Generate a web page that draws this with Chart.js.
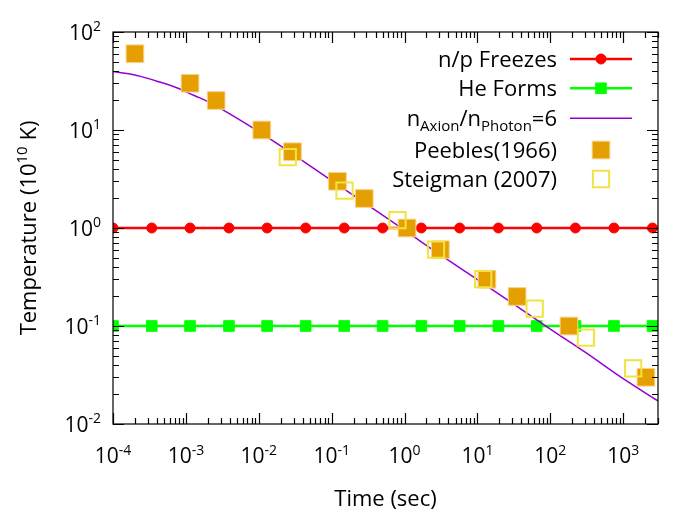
<!DOCTYPE html>
<html>
<head>
<meta charset="utf-8">
<script src="https://cdn.jsdelivr.net/npm/chart.js@4.4.1/dist/chart.umd.min.js"></script>
<style>
  html, body { margin: 0; padding: 0; background: #fff; }
</style>
</head>
<body>
<canvas id="bbnChart" width="698" height="523"></canvas>
<script>
// where the markers sit on the two flat lines (sec)
const markerTimes = [1e-4, 3.4e-4, 1.14e-3, 3.9e-3, 1.3e-2, 4.4e-2, 0.149, 0.50, 1.7, 5.7, 19.4, 65, 221, 746, 2520];
const lineEnd = 3000;
const freezeTemp = 1.0;
const heliumTemp = 0.1;

// n_Axion/n_Photon = 6 curve
const curveTimes = [1e-4, 2e-4, 4e-4, 7.5e-4, 1.3e-3, 2e-3, 4e-3, 1e-2, 3e-2, 0.1, 0.3, 1, 3, 10, 30, 100, 300, 1000, 3000];
const curveTemps = [39.5, 36.5, 31.5, 27, 22.5, 19.5, 14.6, 9.6, 5.6, 3.05, 1.75, 0.95, 0.54, 0.297, 0.171, 0.093, 0.054, 0.029, 0.0172];

// Peebles (1966)
const peeblesTimes = [2e-4, 1.14e-3, 2.6e-3, 1.1e-2, 2.9e-2, 0.12, 0.28, 1.08, 3.1, 13.5, 35, 180, 2050];
const peeblesTemps = [60, 30, 20, 10, 6, 3, 2, 1, 0.6, 0.3, 0.2, 0.1, 0.03];

// Steigman (2007)
const steigmanTimes = [0.025, 0.15, 0.8, 2.7, 12, 61, 308, 1370];
const steigmanTemps = [5.3, 2.4, 1.2, 0.6, 0.3, 0.15, 0.076, 0.037];

// axis ticks (powers of ten)
const xTickExps = [-4, -3, -2, -1, 0, 1, 2, 3];
const yTickExps = [-2, -1, 0, 1, 2];

const FONT = '"Open Sans", "Noto Sans", sans-serif';

function toPoints(xs, ys) {
  return xs.map((x, i) => ({ x: x, y: Array.isArray(ys) ? ys[i] : ys }));
}

// text with sub/superscripts: parts = [{t, s: 'sup' | 'sub'}]
function drawRich(c, parts, x, y, align, size) {
  const small = Math.round(size * 0.68);
  let w = 0;
  parts.forEach(p => {
    c.font = (p.s ? small : size) + 'px ' + FONT;
    w += c.measureText(p.t).width;
  });
  let cx = align === 'center' ? x - w / 2 : align === 'right' ? x - w : x;
  c.textAlign = 'left';
  c.textBaseline = 'alphabetic';
  parts.forEach(p => {
    c.font = (p.s ? small : size) + 'px ' + FONT;
    const dy = p.s === 'sup' ? -size * 0.4 : p.s === 'sub' ? size * 0.21 : 0;
    c.fillText(p.t, cx, y + dy);
    cx += c.measureText(p.t).width;
  });
}

function drawMarker(c, ds, x, y) {
  const r = ds.legendRadius;
  c.save();
  c.fillStyle = ds.backgroundColor;
  c.strokeStyle = ds.borderColor;
  c.lineWidth = ds.pointBorderWidth || 1;
  c.beginPath();
  if (ds.pointStyle === 'circle') {
    c.arc(x, y, r, 0, Math.PI * 2);
  } else {
    const s = r * Math.SQRT1_2;
    c.rect(x - s, y - s, 2 * s, 2 * s);
  }
  if (ds.backgroundColor !== 'transparent') c.fill();
  c.stroke();
  c.restore();
}

// gnuplot style frame: box, inward ticks on all sides, labels, key
const gnuFrame = {
  id: 'gnuFrame',
  afterDraw(chart) {
    const c = chart.ctx;
    const a = chart.chartArea;
    const xs = chart.scales.x, ys = chart.scales.y;
    c.save();
    c.strokeStyle = '#000';
    c.fillStyle = '#000';
    c.lineWidth = 1.2;
    c.strokeRect(a.left, a.top, a.right - a.left, a.bottom - a.top);

    c.beginPath();
    for (let e = -4; e <= 3; e++) {
      for (let k = 1; k <= 9; k++) {
        const v = k * Math.pow(10, e);
        if (v < xs.min * 0.999 || v > xs.max * 1.001) continue;
        const px = Math.round(xs.getPixelForValue(v)) + 0.5;
        const len = k === 1 ? 11 : 6;
        c.moveTo(px, a.bottom); c.lineTo(px, a.bottom - len);
        c.moveTo(px, a.top); c.lineTo(px, a.top + len);
      }
    }
    for (let e = -2; e <= 2; e++) {
      for (let k = 1; k <= 9; k++) {
        const v = k * Math.pow(10, e);
        if (v < ys.min * 0.999 || v > ys.max * 1.001) continue;
        const py = Math.round(ys.getPixelForValue(v)) + 0.5;
        const len = k === 1 ? 11 : 6;
        c.moveTo(a.left, py); c.lineTo(a.left + len, py);
        c.moveTo(a.right, py); c.lineTo(a.right - len, py);
      }
    }
    c.stroke();

    xTickExps.forEach(e => {
      const px = xs.getPixelForValue(Math.pow(10, e));
      drawRich(c, [{ t: '10' }, { t: String(e), s: 'sup' }], px, 463, 'center', 21);
    });
    yTickExps.forEach(e => {
      const py = ys.getPixelForValue(Math.pow(10, e));
      drawRich(c, [{ t: '10' }, { t: String(e), s: 'sup' }], 101, py + 7.5, 'right', 21);
    });

    drawRich(c, [{ t: 'Time (sec)' }], (a.left + a.right) / 2, 506, 'center', 22);
    c.save();
    c.translate(36, (a.top + a.bottom) / 2);
    c.rotate(-Math.PI / 2);
    drawRich(c, [{ t: 'Temperature (10' }, { t: '10', s: 'sup' }, { t: ' K)' }], 0, 0, 'center', 22);
    c.restore();

    // key
    const rowY = [59, 88.3, 118.3, 150, 179];
    chart.data.datasets.forEach((ds, i) => {
      const y = rowY[i];
      c.fillStyle = '#000';
      drawRich(c, ds.richLabel, 557, y + 8, 'right', 22);
      if (ds.showLine) {
        c.strokeStyle = ds.borderColor;
        c.lineWidth = ds.borderWidth;
        c.beginPath();
        c.moveTo(570, y); c.lineTo(632, y);
        c.stroke();
      }
      if (ds.legendRadius) drawMarker(c, ds, 601, y);
    });
    c.restore();
  }
};

const markerRadius = r => ctx => ctx.dataIndex < markerTimes.length ? r : 0;

const ctxChart = document.getElementById('bbnChart').getContext('2d');
new Chart(ctxChart, {
  type: 'scatter',
  data: {
    datasets: [
      {
        label: 'n/p Freezes',
        richLabel: [{ t: 'n/p Freezes' }],
        data: toPoints(markerTimes.concat([lineEnd]), freezeTemp),
        showLine: true,
        borderColor: '#ff0000',
        backgroundColor: '#ff0000',
        borderWidth: 2.6,
        pointStyle: 'circle',
        pointRadius: markerRadius(5),
        pointBorderWidth: 1,
        legendRadius: 5,
        order: 5
      },
      {
        label: 'He Forms',
        richLabel: [{ t: 'He Forms' }],
        data: toPoints(markerTimes.concat([lineEnd]), heliumTemp),
        showLine: true,
        borderColor: '#00ff00',
        backgroundColor: '#00ff00',
        borderWidth: 2.6,
        pointStyle: 'rect',
        pointRadius: markerRadius(7.5),
        pointBorderWidth: 1,
        legendRadius: 7.5,
        order: 4
      },
      {
        label: 'nAxion/nPhoton=6',
        richLabel: [{ t: 'n' }, { t: 'Axion', s: 'sub' }, { t: '/n' }, { t: 'Photon', s: 'sub' }, { t: '=6' }],
        data: toPoints(curveTimes, curveTemps),
        showLine: true,
        borderColor: '#9400d3',
        backgroundColor: '#9400d3',
        borderWidth: 1.5,
        pointRadius: 0,
        tension: 0.4,
        order: 3
      },
      {
        label: 'Peebles(1966)',
        richLabel: [{ t: 'Peebles(1966)' }],
        data: toPoints(peeblesTimes, peeblesTemps),
        showLine: false,
        borderColor: '#f6d48a',
        backgroundColor: '#e69f00',
        pointStyle: 'rect',
        pointRadius: 12.5,
        pointBorderWidth: 1,
        legendRadius: 12.5,
        order: 2
      },
      {
        label: 'Steigman (2007)',
        richLabel: [{ t: 'Steigman (2007)' }],
        data: toPoints(steigmanTimes, steigmanTemps),
        showLine: false,
        borderColor: '#f0e442',
        backgroundColor: 'transparent',
        pointStyle: 'rect',
        pointRadius: 11.5,
        pointBorderWidth: 2,
        legendRadius: 11.5,
        order: 1
      }
    ]
  },
  options: {
    responsive: false,
    animation: false,
    events: [],
    layout: { padding: { left: 113, right: 40, top: 32, bottom: 99 } },
    plugins: { legend: { display: false }, tooltip: { enabled: false } },
    scales: {
      x: { type: 'logarithmic', min: 1e-4, max: 3000, display: false },
      y: { type: 'logarithmic', min: 0.01, max: 100, display: false }
    }
  },
  plugins: [gnuFrame]
});
</script>
</body>
</html>
